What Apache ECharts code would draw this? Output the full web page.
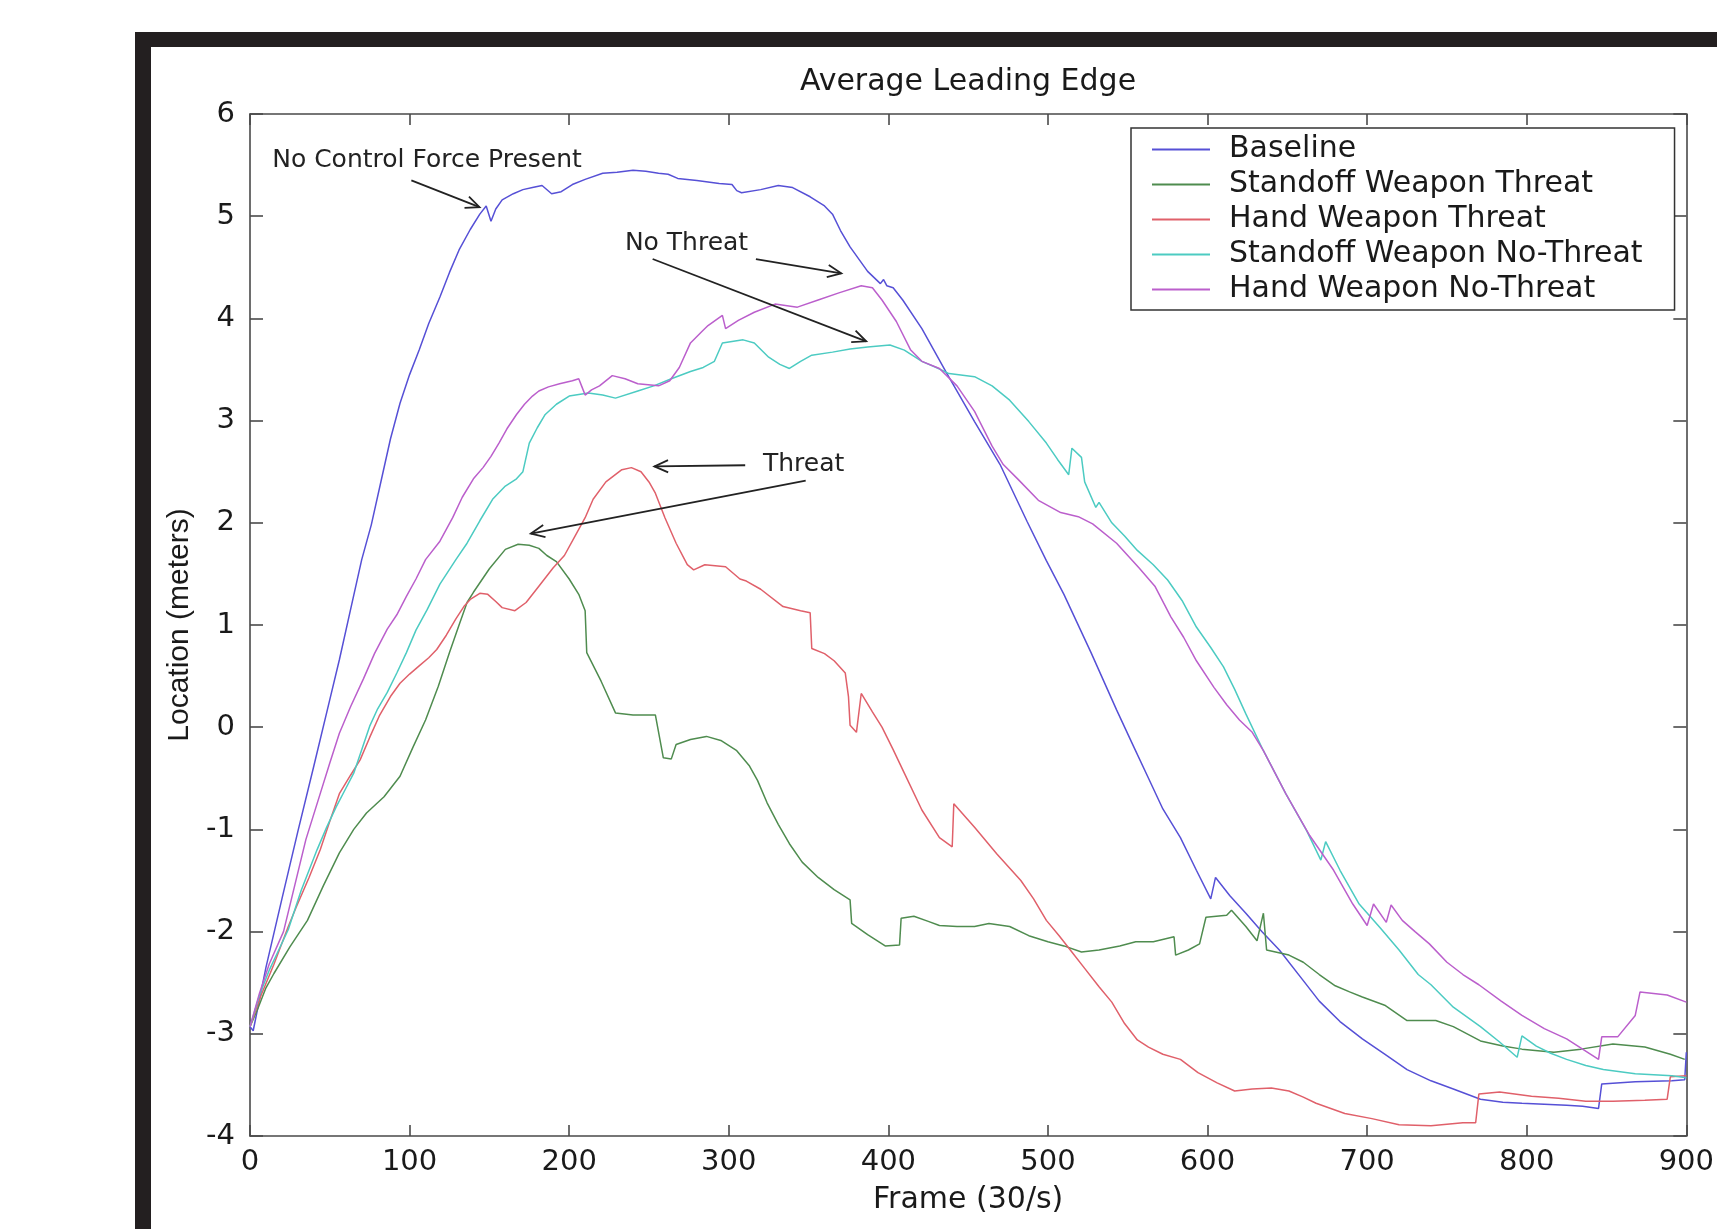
<!DOCTYPE html>
<html>
<head>
<meta charset="utf-8">
<script src="https://cdn.jsdelivr.net/npm/echarts@6/dist/echarts.min.js"></script>
<style>html,body{margin:0;padding:0;background:#fff}#c{width:1717px;height:1229px}</style>
</head>
<body>
<div id="c"></div>
<script>
const seriesNames = ['Baseline', 'Standoff Weapon Threat', 'Hand Weapon Threat', 'Standoff Weapon No-Threat', 'Hand Weapon No-Threat'];

const baseline = [[0,-2.93],[2,-2.97],[10,-2.35],[20,-1.68],[30,-1.02],[40,-0.38],[50,0.27],[56,0.66],[63,1.15],[70,1.64],[76,1.98],[83,2.47],[88,2.82],[94,3.17],[100,3.45],[106,3.69],[112,3.95],[119,4.21],[125,4.45],[131,4.67],[138,4.87],[144,5.02],[148,5.1],[151,4.95],[154,5.07],[158,5.16],[165,5.22],[171,5.26],[177,5.28],[183,5.30],[189,5.22],[195,5.24],[202,5.31],[210,5.36],[221,5.42],[230,5.43],[240,5.45],[248,5.44],[256,5.42],[262,5.41],[268,5.37],[280,5.35],[294,5.32],[302,5.31],[305,5.25],[308,5.23],[320,5.26],[331,5.30],[340,5.28],[351,5.19],[360,5.10],[365,5.02],[370,4.86],[376,4.70],[387,4.46],[395,4.34],[397,4.38],[399,4.32],[403,4.30],[409,4.18],[421,3.90],[436,3.48],[454,2.99],[470,2.57],[487,2.01],[499,1.63],[510,1.30],[527,0.73],[543,0.17],[554,-0.2],[563,-0.5],[572,-0.8],[583,-1.08],[593,-1.4],[602,-1.68],[605,-1.47],[614,-1.65],[624,-1.82],[634,-2.0],[645,-2.18],[660,-2.48],[670,-2.68],[683,-2.88],[697,-3.05],[711,-3.2],[725,-3.35],[740,-3.46],[754,-3.54],[771,-3.64],[785,-3.67],[797,-3.68],[811,-3.69],[825,-3.70],[835,-3.71],[845,-3.73],[847,-3.49],[868,-3.47],[891,-3.46],[899,-3.45],[900,-3.18]];

const standoffThreat = [[0,-2.93],[5,-2.75],[10,-2.55],[15,-2.41],[25,-2.15],[36,-1.89],[46,-1.55],[56,-1.23],[65,-1.0],[73,-0.84],[84,-0.68],[94,-0.48],[102,-0.2],[110,0.07],[118,0.4],[125,0.73],[131,1.0],[136,1.22],[140,1.32],[150,1.55],[160,1.74],[168,1.79],[175,1.78],[181,1.75],[186,1.68],[192,1.62],[200,1.45],[206,1.3],[210,1.14],[211,0.73],[220,0.45],[229,0.14],[240,0.12],[254,0.12],[259,-0.30],[264,-0.31],[267,-0.17],[276,-0.12],[286,-0.09],[295,-0.13],[305,-0.23],[313,-0.38],[318,-0.52],[324,-0.74],[331,-0.95],[338,-1.14],[346,-1.32],[356,-1.47],[366,-1.59],[376,-1.69],[377,-1.92],[387,-2.03],[398,-2.14],[407,-2.13],[408,-1.87],[416,-1.85],[425,-1.9],[432,-1.94],[443,-1.95],[454,-1.95],[463,-1.92],[476,-1.95],[488,-2.04],[500,-2.10],[510,-2.14],[521,-2.20],[532,-2.18],[545,-2.14],[555,-2.10],[566,-2.10],[579,-2.05],[580,-2.23],[588,-2.18],[595,-2.12],[599,-1.86],[612,-1.84],[615,-1.79],[624,-1.95],[631,-2.09],[635,-1.82],[637,-2.18],[651,-2.23],[660,-2.3],[670,-2.42],[680,-2.53],[689,-2.59],[697,-2.64],[711,-2.72],[725,-2.87],[743,-2.87],[754,-2.93],[771,-3.07],[785,-3.12],[797,-3.15],[817,-3.18],[834,-3.15],[854,-3.10],[874,-3.13],[890,-3.2],[899,-3.25]];

const handThreat = [[0,-2.93],[7,-2.62],[15,-2.32],[24,-1.95],[29,-1.76],[37,-1.47],[44,-1.20],[50,-0.92],[56,-0.65],[63,-0.47],[69,-0.32],[75,-0.1],[81,0.11],[88,0.3],[94,0.43],[100,0.52],[106,0.60],[112,0.68],[117,0.76],[123,0.9],[129,1.06],[134,1.18],[138,1.25],[144,1.31],[149,1.30],[154,1.23],[158,1.17],[166,1.14],[173,1.22],[181,1.38],[190,1.56],[197,1.68],[204,1.88],[210,2.05],[215,2.23],[223,2.40],[233,2.52],[239,2.54],[245,2.5],[250,2.4],[254,2.29],[260,2.05],[267,1.80],[274,1.59],[278,1.54],[285,1.59],[298,1.57],[307,1.45],[311,1.43],[320,1.35],[334,1.18],[345,1.14],[351,1.12],[352,0.77],[360,0.72],[366,0.65],[373,0.53],[375,0.3],[376,0.02],[380,-0.05],[383,0.33],[390,0.15],[396,0.0],[403,-0.22],[410,-0.45],[421,-0.81],[432,-1.08],[440,-1.17],[441,-0.75],[454,-0.98],[468,-1.24],[483,-1.50],[491,-1.68],[499,-1.89],[507,-2.04],[514,-2.18],[523,-2.36],[532,-2.54],[540,-2.69],[548,-2.90],[556,-3.06],[563,-3.13],[572,-3.2],[583,-3.25],[594,-3.38],[606,-3.48],[617,-3.56],[628,-3.54],[640,-3.53],[651,-3.56],[660,-3.62],[668,-3.68],[686,-3.78],[703,-3.83],[720,-3.89],[740,-3.90],[760,-3.87],[768,-3.87],[770,-3.59],[783,-3.57],[803,-3.61],[820,-3.63],[837,-3.66],[854,-3.66],[874,-3.65],[888,-3.64],[890,-3.42],[900,-3.41]];

const standoffNoThreat = [[0,-2.93],[6,-2.62],[12,-2.38],[18,-2.18],[24,-1.98],[32,-1.6],[42,-1.20],[48,-0.98],[54,-0.78],[60,-0.6],[65,-0.45],[70,-0.22],[75,0.01],[80,0.18],[86,0.34],[92,0.53],[98,0.73],[104,0.95],[111,1.15],[119,1.4],[129,1.64],[136,1.8],[144,2.02],[152,2.23],[160,2.36],[167,2.43],[171,2.50],[175,2.78],[180,2.93],[185,3.06],[192,3.16],[200,3.24],[212,3.27],[221,3.25],[229,3.22],[243,3.29],[253,3.34],[264,3.41],[276,3.48],[284,3.52],[291,3.58],[296,3.76],[309,3.79],[316,3.76],[325,3.62],[332,3.55],[338,3.51],[345,3.58],[352,3.64],[365,3.67],[376,3.70],[387,3.72],[401,3.74],[410,3.69],[421,3.58],[430,3.52],[438,3.46],[454,3.43],[465,3.34],[476,3.20],[488,2.99],[499,2.78],[506,2.62],[513,2.47],[515,2.73],[521,2.64],[523,2.40],[530,2.15],[532,2.20],[540,2.0],[548,1.87],[556,1.73],[566,1.59],[575,1.44],[584,1.24],[593,0.98],[602,0.78],[610,0.59],[617,0.37],[624,0.13],[635,-0.23],[649,-0.65],[662,-1.01],[671,-1.30],[674,-1.12],[683,-1.40],[695,-1.73],[708,-1.96],[720,-2.18],[732,-2.42],[740,-2.52],[754,-2.74],[771,-2.93],[783,-3.08],[794,-3.23],[797,-3.02],[806,-3.12],[815,-3.19],[825,-3.25],[837,-3.31],[848,-3.35],[868,-3.39],[891,-3.41],[900,-3.43]];

const handNoThreat = [[0,-2.93],[6,-2.6],[12,-2.32],[21,-2.0],[28,-1.55],[35,-1.1],[44,-0.65],[50,-0.35],[56,-0.06],[63,0.2],[71,0.47],[78,0.72],[86,0.96],[92,1.1],[98,1.28],[104,1.45],[110,1.64],[119,1.82],[127,2.05],[133,2.25],[140,2.43],[146,2.54],[151,2.65],[156,2.78],[161,2.92],[167,3.06],[172,3.16],[177,3.24],[181,3.29],[187,3.33],[194,3.36],[202,3.39],[206,3.41],[208,3.33],[210,3.25],[214,3.3],[219,3.34],[227,3.44],[235,3.41],[243,3.36],[256,3.34],[263,3.39],[269,3.52],[276,3.76],[283,3.87],[287,3.93],[296,4.03],[298,3.90],[306,3.98],[316,4.06],[329,4.14],[343,4.11],[356,4.18],[369,4.25],[383,4.32],[390,4.30],[396,4.18],[405,3.97],[414,3.69],[421,3.58],[432,3.51],[443,3.34],[454,3.09],[465,2.75],[472,2.57],[481,2.43],[494,2.22],[508,2.10],[519,2.06],[528,1.99],[543,1.80],[557,1.56],[567,1.38],[577,1.08],[585,0.88],[593,0.65],[604,0.39],[612,0.22],[620,0.07],[628,-0.05],[635,-0.23],[649,-0.65],[664,-1.06],[679,-1.40],[691,-1.73],[700,-1.94],[704,-1.73],[712,-1.91],[715,-1.74],[722,-1.89],[730,-2.0],[739,-2.12],[750,-2.3],[760,-2.42],[770,-2.52],[784,-2.68],[797,-2.82],[811,-2.95],[825,-3.05],[835,-3.15],[845,-3.25],[847,-3.03],[857,-3.03],[868,-2.82],[871,-2.59],[888,-2.62],[900,-2.69]];

const seriesData = [baseline, standoffThreat, handThreat, standoffNoThreat, handNoThreat];
const seriesColors = ['#5650d6', '#4f8c4f', '#e0606a', '#4ccbc2', '#bb5fcc'];

// annotation texts (left-middle anchor) and arrows [fromX, fromY, toX, toY], in data units
const noteTexts = ['No Control Force Present', 'No Threat', 'Threat'];
const noteAnchors = [[13.9, 5.549], [234.9, 4.737], [321.4, 2.57]];
const arrows = [[101.1, 5.35, 143.8, 5.088], [317.0, 4.581, 370.5, 4.441], [252.3, 4.581, 386.1, 3.776], [310.3, 2.563, 253.4, 2.552], [348.2, 2.412, 176.0, 1.894]];

const FONT = 'DejaVu Sans';
const AX = '#4a4a4a';
const TXT = '#1a1a1a';

const chart = echarts.init(document.getElementById('c'), null, {renderer: 'canvas', width: 1717, height: 1229});

const axisCommon = {
  axisLine: {show: true, onZero: false, lineStyle: {color: AX, width: 1.6}},
  splitLine: {show: false}
};

const option = {
  animation: false,
  backgroundColor: '#ffffff',
  title: {
    text: 'Average Leading Edge', left: 968, top: 82, textAlign: 'center', textVerticalAlign: 'middle', padding: 0,
    textStyle: {fontFamily: FONT, fontSize: 30, fontWeight: 'normal', color: TXT}
  },
  grid: {left: 250, top: 114, right: 25, bottom: 93, containLabel: false},
  legend: {
    orient: 'vertical', left: 1131, top: 128, itemWidth: 58, itemHeight: 2, itemGap: 0, icon: 'rect',
    padding: [4, 32, 3, 21], backgroundColor: '#ffffff', borderColor: '#333333', borderWidth: 1.5,
    selectedMode: false, data: seriesNames,
    itemStyle: {borderWidth: 0},
    textStyle: {fontFamily: FONT, fontSize: 30, color: TXT, lineHeight: 35, padding: [0, 0, 0, 14]}
  },
  xAxis: [
    Object.assign({}, axisCommon, {
      type: 'value', min: 0, max: 900, interval: 100, position: 'bottom',
      name: 'Frame (30/s)', nameLocation: 'middle', nameGap: 49,
      nameTextStyle: {fontFamily: FONT, fontSize: 30, color: TXT},
      axisTick: {show: true, inside: true, length: 11, lineStyle: {color: AX, width: 1.6}},
      axisLabel: {fontFamily: FONT, fontSize: 29, color: TXT, margin: 12, showMinLabel: true, showMaxLabel: true}
    }),
    Object.assign({}, axisCommon, {
      type: 'value', min: 0, max: 900, interval: 100, position: 'top',
      axisTick: {show: true, inside: true, length: 11, lineStyle: {color: AX, width: 1.6}},
      axisLabel: {show: false}
    })
  ],
  yAxis: [
    Object.assign({}, axisCommon, {
      type: 'value', min: -4, max: 6, interval: 1, position: 'left',
      name: 'Location (meters)', nameLocation: 'middle', nameGap: 48,
      nameTextStyle: {fontFamily: 'Liberation Sans', fontSize: 30, color: TXT},
      axisTick: {show: true, inside: true, length: 13, lineStyle: {color: AX, width: 1.6}},
      axisLabel: {fontFamily: FONT, fontSize: 29, color: TXT, margin: 15, showMinLabel: true, showMaxLabel: true}
    }),
    Object.assign({}, axisCommon, {
      type: 'value', min: -4, max: 6, interval: 1, position: 'right',
      axisTick: {show: true, inside: true, length: 13, lineStyle: {color: AX, width: 1.6}},
      axisLabel: {show: false}
    })
  ],
  series: seriesNames.map((name, i) => ({
    name: name, type: 'line', data: seriesData[i], xAxisIndex: 0, yAxisIndex: 0,
    symbol: 'none', showSymbol: false, clip: true,
    lineStyle: {width: 1.5, color: seriesColors[i]}, itemStyle: {color: seriesColors[i]}
  }))
};

chart.setOption(option);

// frame and annotations as graphics
const els = [
  {type: 'rect', shape: {x: 135, y: 32, width: 16, height: 1200}, style: {fill: '#231f20'}, silent: true},
  {type: 'rect', shape: {x: 135, y: 32, width: 1600, height: 15}, style: {fill: '#231f20'}, silent: true}
];
const ANN = '#222222';
noteTexts.forEach((t, i) => {
  const p = chart.convertToPixel({gridIndex: 0}, noteAnchors[i]);
  els.push({type: 'text', x: p[0], y: p[1], silent: true, z: 10,
    style: {text: t, fontFamily: FONT, fontSize: 25, fill: ANN, align: 'left', verticalAlign: 'middle', textAlign: 'left', textVerticalAlign: 'middle'}});
});
arrows.forEach(a => {
  const p1 = chart.convertToPixel({gridIndex: 0}, [a[0], a[1]]);
  const p2 = chart.convertToPixel({gridIndex: 0}, [a[2], a[3]]);
  const dx = p2[0] - p1[0], dy = p2[1] - p1[1];
  const len = Math.sqrt(dx * dx + dy * dy);
  const ux = dx / len, uy = dy / len;
  const L = 15, ang = 24 * Math.PI / 180;
  const c = Math.cos(ang), s = Math.sin(ang);
  const l1 = [p2[0] - L * (ux * c - uy * s), p2[1] - L * (uy * c + ux * s)];
  const l2 = [p2[0] - L * (ux * c + uy * s), p2[1] - L * (uy * c - ux * s)];
  els.push({type: 'line', silent: true, z: 10, shape: {x1: p1[0], y1: p1[1], x2: p2[0], y2: p2[1]}, style: {stroke: ANN, lineWidth: 1.8}});
  els.push({type: 'polyline', silent: true, z: 10, shape: {points: [l1, p2, l2]}, style: {stroke: ANN, lineWidth: 1.8, fill: null}});
});
chart.setOption({graphic: {elements: els}});
</script>
</body>
</html>
